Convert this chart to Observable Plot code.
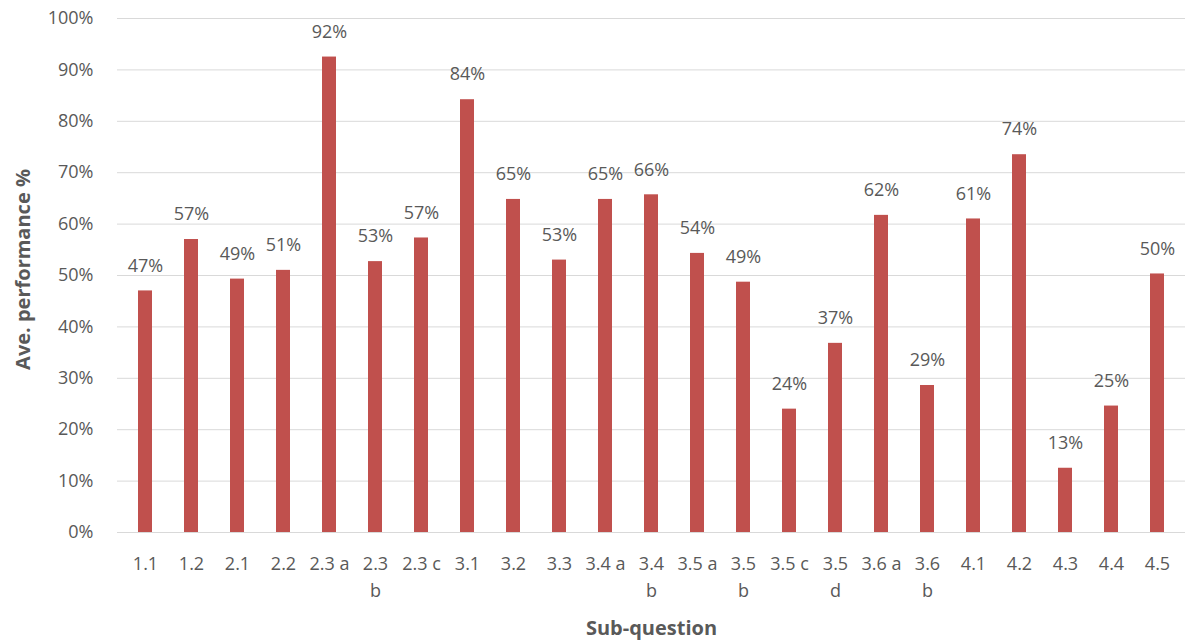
<!DOCTYPE html>
<html>
<head>
<meta charset="utf-8">
<script src="https://cdn.jsdelivr.net/npm/d3@7"></script>
<script src="https://cdn.jsdelivr.net/npm/@observablehq/plot@0.6"></script>
<style>
  html, body { margin: 0; padding: 0; background: #fff; }
  #chart svg { display: block; }
</style>
</head>
<body>
<div id="chart"></div>
<script>
const categories = ["1.1","1.2","2.1","2.2","2.3 a","2.3 b","2.3 c","3.1","3.2","3.3","3.4 a","3.4 b","3.5 a","3.5 b","3.5 c","3.5 d","3.6 a","3.6 b","4.1","4.2","4.3","4.4","4.5"];
const tickLabels = ["1.1","1.2","2.1","2.2","2.3 a","2.3\nb","2.3 c","3.1","3.2","3.3","3.4 a","3.4\nb","3.5 a","3.5\nb","3.5 c","3.5\nd","3.6 a","3.6\nb","4.1","4.2","4.3","4.4","4.5"];
const values = [0.470,0.570,0.493,0.510,0.925,0.527,0.573,0.842,0.648,0.530,0.648,0.657,0.543,0.487,0.240,0.368,0.617,0.286,0.610,0.735,0.125,0.246,0.503];
const valueLabels = ["47%","57%","49%","51%","92%","53%","57%","84%","65%","53%","65%","66%","54%","49%","24%","37%","62%","29%","61%","74%","13%","25%","50%"];
const yTicks = [0,0.1,0.2,0.3,0.4,0.5,0.6,0.7,0.8,0.9,1.0];

const data = categories.map((c, i) => ({cat: c, value: values[i], label: valueLabels[i]}));
const tickMap = new Map(categories.map((c, i) => [c, tickLabels[i]]));

const font = "'Open Sans', 'Segoe UI', sans-serif";
const gray = "#595959";

const chart = Plot.plot({
  width: 1192,
  height: 644,
  marginLeft: 117,
  marginRight: 7,
  marginTop: 18,
  marginBottom: 112,
  style: {fontFamily: font, fontSize: "18px", color: gray, background: "#fff"},
  x: {domain: categories, paddingInner: 0.69, paddingOuter: 0.345, label: null},
  y: {domain: [0, 1], label: null},
  marks: [
    Plot.ruleY(yTicks, {stroke: "#d9d9d9", strokeWidth: 1}),
    Plot.barY(data, {x: "cat", y: "value", fill: "#C0504D"}),
    Plot.text(data, {x: "cat", y: "value", text: "label", dy: -25, lineAnchor: "middle", fill: gray, fontSize: 18}),
    Plot.axisY({ticks: yTicks, tickFormat: d3.format(".0%"), tickSize: 0, tickPadding: 24, fill: gray, fontSize: 18, label: null}),
    Plot.axisX({tickFormat: d => tickMap.get(d), tickSize: 0, tickPadding: 18, fill: gray, fontSize: 18, lineHeight: 1.5, lineAnchor: "top", label: null}),
    Plot.text(["Ave. performance %"], {frameAnchor: "left", dx: -94, dy: -6, rotate: -90, textAnchor: "middle", lineAnchor: "middle", fontSize: 20, fontWeight: "bold", fill: gray}),
    Plot.text(["Sub-question"], {frameAnchor: "bottom", dy: 96, lineAnchor: "middle", fontSize: 20, fontWeight: "bold", fill: gray})
  ]
});
document.getElementById("chart").appendChild(chart);
</script>
</body>
</html>
